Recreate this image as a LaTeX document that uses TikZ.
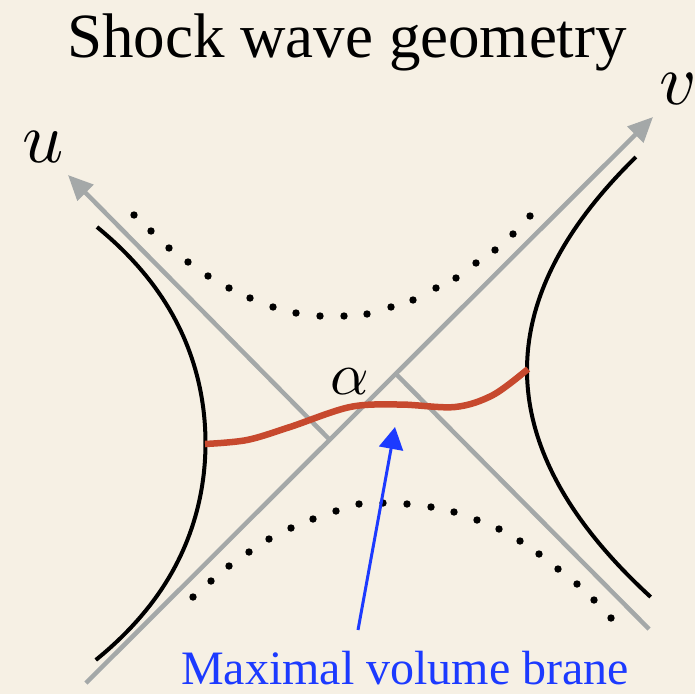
\documentclass[tikz,border=0pt]{standalone}
\usepackage{fontspec}
\setmainfont{Liberation Serif}
\usetikzlibrary{arrows.meta}
\definecolor{paper}{RGB}{246,240,228}
\definecolor{axisgray}{RGB}{164,168,168}
\definecolor{branered}{RGB}{199,73,46}
\definecolor{labelblue}{RGB}{28,58,255}
\tikzset{
  axisline/.style={draw=axisgray, line width=4.5pt},
  axisarrow/.style={axisline, -{Triangle[length=25pt,width=22pt]}},
  horizon/.style={draw=black, line width=4pt},
  brane/.style={draw=branered, line width=6.5pt},
  dotmark/.style={fill=black},
  pointer/.style={draw=labelblue, line width=3pt, -{Triangle[length=22pt,width=24pt]}},
  mathlabel/.style={inner sep=0pt},
}
\begin{document}
\begin{tikzpicture}[x=1pt,y=-1pt]
\fill[paper] (0,0) rectangle (695,694);
\useasboundingbox (0,0) rectangle (695,694);

% axis coordinates
\coordinate (utip) at (68,175);
\coordinate (ubreakA) at (330,440);
\coordinate (ubreakB) at (397,375);
\coordinate (uend) at (649,629);
\coordinate (vstart) at (86,683);
\coordinate (vtip) at (653,117);

% axes
\draw[axisarrow] (ubreakA) -- (utip);
\draw[axisarrow] (vstart) -- (vtip);
\draw[axisline] (ubreakB) -- (uend);

% horizons
\draw[horizon] plot[domain=-2.16:2.17, samples=80, variable=\s]
  ({205.5-18.27*\s*\s-1.068*\s*\s*\s*\s},{443+100*\s});
\draw[horizon] plot[domain=-2.13:2.27, samples=80, variable=\s]
  ({527+24*\s*\s},{370+100*\s});

% dotted curves
\foreach \p in {(134,215),(151,231),(169,248),(188,262),(208,276),(229,288),(250,298),(273,307),(296,313),(320,316),(344,316),(367,314),(391,307),(413,300),(436,288),(456,278),(476,263),(495,250),(513,234),(530,216)}
  \fill[dotmark] \p circle (3.7);
\foreach \p in {(193,597),(211,581),(229,566),(249,552),(269,539),(291,528),(313,519),(336,511),(359,504),(383,503),(407,504),(431,507),(454,512),(477,520),(499,529),(520,541),(539,554),(558,569),(577,584),(594,600),(611,618)}
  \fill[dotmark] \p circle (3.7);

% brane
\coordinate (braneL) at (205,444);
\coordinate (braneR) at (528,369);
\draw[brane, line cap=butt] plot[smooth, tension=0.55] coordinates
  {(braneL) (247,440) (290,427) (350,407) (400,404.5) (455,407) (493,395) (braneR)};

% labels
\node[inner sep=0pt, font=\fontsize{63}{70}\selectfont, anchor=base] (title) at (347,57) {Shock wave geometry};
\node[mathlabel] (ulabel) at (43,147) {\scalebox{7.2}{$u$}};
\node[mathlabel] (vlabel) at (678,89) {\scalebox{7.2}{$v$}};
\node[mathlabel] (alphalabel) at (350,382) {\scalebox{6}{$\alpha$}};
\node[inner sep=0pt, font=\fontsize{48}{54}\selectfont, text=labelblue, anchor=base] (branelabel) at (405,684) {Maximal volume brane};

% pointer
\coordinate (ptail) at (358,630);
\coordinate (ptip) at (395,427);
\draw[pointer] (ptail) -- (ptip);
\end{tikzpicture}
\end{document}
